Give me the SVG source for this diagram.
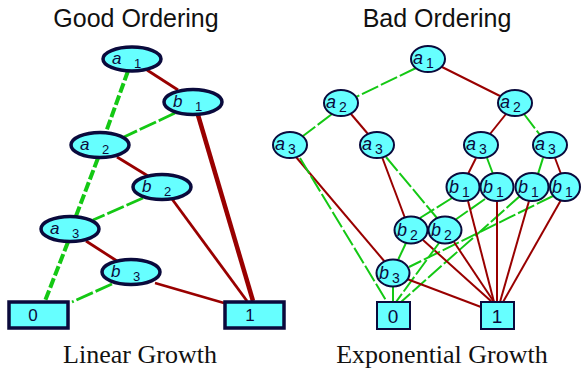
<svg xmlns="http://www.w3.org/2000/svg" width="581" height="372" viewBox="0 0 581 372">
<style>
.title{font-family:"Liberation Sans",Arial,sans-serif;font-size:25px;fill:#111;text-anchor:middle}
.cap{font-family:"Liberation Serif","Times New Roman",serif;font-size:26px;fill:#111;text-anchor:middle}
.nl{fill:#66ffff;stroke:#0a0a3c;stroke-width:3.5}
.nr{fill:#66ffff;stroke:#0a0a3c;stroke-width:2}
.bl{fill:#66ffff;stroke:#0a0a3c;stroke-width:3.5}
.br{fill:#66ffff;stroke:#0a0a3c;stroke-width:2}
.v{font-family:"Liberation Sans",Arial,sans-serif;font-style:italic;font-size:17px;fill:#0a0a3c}
.s{font-family:"Liberation Sans",Arial,sans-serif;font-size:13px;fill:#0a0a3c}
.vr{font-family:"Liberation Sans",Arial,sans-serif;font-style:italic;font-size:18px;fill:#0a0a3c}
.sr{font-family:"Liberation Sans",Arial,sans-serif;font-size:14px;fill:#0a0a3c}
.t{font-family:"Liberation Sans",Arial,sans-serif;font-size:17px;fill:#0a0a3c;text-anchor:middle}
.tr{font-family:"Liberation Sans",Arial,sans-serif;font-size:19px;fill:#0a0a3c;text-anchor:middle}
.g{stroke:#14c814;fill:none;stroke-dasharray:18,3}
.gd{stroke:#14c814;fill:none;stroke-width:4;stroke-dasharray:10,3}
.r{stroke:#990000;fill:none}
.lw{stroke-width:2.8}
.rw{stroke-width:2}
</style>
<text class="title" x="136" y="27">Good Ordering</text>
<text class="title" x="437" y="27">Bad Ordering</text>
<text class="cap" x="140" y="363">Linear Growth</text>
<text class="cap" x="442" y="363">Exponential Growth</text>
<g id="connectors">
<line class="gd" x1="128" y1="71" x2="106" y2="132"/>
<line class="r lw" x1="147" y1="70" x2="178" y2="90"/>
<line class="g lw" x1="175" y1="113" x2="124" y2="137"/>
<line class="r" stroke-width="4.5" x1="198" y1="115" x2="253" y2="301"/>
<line class="gd" x1="98" y1="158" x2="76" y2="216"/>
<line class="r lw" x1="117" y1="157" x2="148" y2="176"/>
<line class="g lw" x1="143" y1="198" x2="93" y2="220"/>
<line class="r lw" x1="172" y1="199" x2="247" y2="301"/>
<line class="gd" x1="68" y1="242" x2="45" y2="301"/>
<line class="r lw" x1="86" y1="241" x2="117" y2="261"/>
<line class="g lw" x1="112" y1="284" x2="72" y2="302"/>
<line class="r" stroke-width="2.4" x1="155" y1="283" x2="224" y2="303"/>
<line class="g rw" x1="416" y1="68" x2="356" y2="97"/>
<line class="r rw" x1="442" y1="67" x2="500" y2="96"/>
<line class="g rw" x1="332" y1="114" x2="303" y2="136"/>
<line class="r rw" x1="351" y1="114" x2="368" y2="134"/>
<line class="r rw" x1="506" y1="114" x2="490" y2="134"/>
<line class="g rw" x1="524" y1="114" x2="540" y2="135"/>
<line class="r rw" x1="296" y1="157" x2="385" y2="262"/>
<line class="g rw" x1="300" y1="158" x2="387" y2="302"/>
<line class="r rw" x1="382" y1="157" x2="405" y2="218"/>
<line class="g rw" x1="386" y1="157" x2="437" y2="218"/>
<line class="r rw" x1="476" y1="158" x2="468" y2="174"/>
<line class="g rw" x1="487" y1="158" x2="493" y2="174"/>
<line class="g rw" x1="543" y1="158" x2="538" y2="174"/>
<line class="r rw" x1="555" y1="158" x2="561" y2="174"/>
<line class="g rw" x1="452" y1="198" x2="420" y2="218"/>
<line class="g rw" x1="485" y1="199" x2="455" y2="220"/>
<line class="g rw" x1="520" y1="196" x2="401" y2="302"/>
<line class="g rw" x1="553" y1="196" x2="409" y2="267"/>
<line class="r rw" x1="468" y1="201" x2="494" y2="302"/>
<line class="r rw" x1="497" y1="202" x2="497" y2="302"/>
<line class="r rw" x1="529" y1="201" x2="500" y2="302"/>
<line class="r rw" x1="561" y1="200" x2="503" y2="302"/>
<line class="r rw" x1="423" y1="240" x2="492" y2="302"/>
<line class="r rw" x1="454" y1="242" x2="494" y2="302"/>
<line class="g rw" x1="406" y1="243" x2="398" y2="260"/>
<line class="g rw" x1="439" y1="243" x2="396" y2="302"/>
<line class="g rw" x1="393" y1="287" x2="393" y2="302"/>
<line class="r rw" x1="407" y1="279" x2="481" y2="307"/>
</g>
<g id="L_a1"><ellipse class="nl" cx="132" cy="59" rx="29" ry="12"/><text class="v" x="112" y="64">a</text><text class="s" x="134" y="68">1</text></g>
<g id="L_b1"><ellipse class="nl" cx="193" cy="102" rx="29" ry="12.5"/><text class="v" x="173" y="107">b</text><text class="s" x="195" y="111">1</text></g>
<g id="L_a2"><ellipse class="nl" cx="100" cy="145" rx="29" ry="12.5"/><text class="v" x="80" y="150">a</text><text class="s" x="102" y="154">2</text></g>
<g id="L_b2"><ellipse class="nl" cx="162" cy="187" rx="29" ry="12.5"/><text class="v" x="142" y="192">b</text><text class="s" x="164" y="196">2</text></g>
<g id="L_a3"><ellipse class="nl" cx="70" cy="229" rx="29" ry="12.5"/><text class="v" x="50" y="234">a</text><text class="s" x="72" y="238">3</text></g>
<g id="L_b3"><ellipse class="nl" cx="131" cy="272" rx="29" ry="12.5"/><text class="v" x="111" y="277">b</text><text class="s" x="133" y="281">3</text></g>
<g id="L_0"><rect class="bl" x="9" y="302" width="59" height="26"/><text class="t" x="33" y="321">0</text></g>
<g id="L_1"><rect class="bl" x="225" y="302" width="59" height="26"/><text class="t" x="250" y="321">1</text></g>
<g id="R_a1"><ellipse class="nr" cx="428" cy="59" rx="17" ry="13"/><text class="vr" x="413" y="64">a</text><text class="sr" x="426" y="68">1</text></g>
<g id="R_a2L"><ellipse class="nr" cx="341" cy="103" rx="17" ry="13"/><text class="vr" x="326" y="108">a</text><text class="sr" x="339" y="112">2</text></g>
<g id="R_a2R"><ellipse class="nr" cx="515" cy="103" rx="17" ry="13"/><text class="vr" x="500" y="108">a</text><text class="sr" x="513" y="112">2</text></g>
<g id="R_a3a"><ellipse class="nr" cx="290" cy="145" rx="17" ry="13"/><text class="vr" x="275" y="150">a</text><text class="sr" x="288" y="154">3</text></g>
<g id="R_a3b"><ellipse class="nr" cx="377" cy="145" rx="17" ry="13"/><text class="vr" x="362" y="150">a</text><text class="sr" x="375" y="154">3</text></g>
<g id="R_a3c"><ellipse class="nr" cx="481" cy="145" rx="17" ry="13"/><text class="vr" x="466" y="150">a</text><text class="sr" x="479" y="154">3</text></g>
<g id="R_a3d"><ellipse class="nr" cx="550" cy="145" rx="17" ry="13"/><text class="vr" x="535" y="150">a</text><text class="sr" x="548" y="154">3</text></g>
<g id="R_b1a"><ellipse class="nr" cx="463" cy="187" rx="16.5" ry="14"/><text class="vr" x="449" y="193">b</text><text class="sr" x="462" y="197">1</text></g>
<g id="R_b1b"><ellipse class="nr" cx="497" cy="187" rx="16.5" ry="14"/><text class="vr" x="483" y="193">b</text><text class="sr" x="496" y="197">1</text></g>
<g id="R_b1c"><ellipse class="nr" cx="532" cy="187" rx="16.5" ry="14"/><text class="vr" x="518" y="193">b</text><text class="sr" x="531" y="197">1</text></g>
<g id="R_b1d"><ellipse class="nr" cx="565" cy="187" rx="15" ry="14"/><text class="vr" x="552" y="193">b</text><text class="sr" x="565" y="197">1</text></g>
<g id="R_b2a"><ellipse class="nr" cx="411" cy="230" rx="16.5" ry="13.5"/><text class="vr" x="397" y="236">b</text><text class="sr" x="410" y="240">2</text></g>
<g id="R_b2b"><ellipse class="nr" cx="445" cy="230" rx="16.5" ry="13.5"/><text class="vr" x="431" y="236">b</text><text class="sr" x="444" y="240">2</text></g>
<g id="R_b3"><ellipse class="nr" cx="393" cy="273" rx="16.5" ry="13.5"/><text class="vr" x="379" y="279">b</text><text class="sr" x="392" y="283">3</text></g>
<g id="R_0"><rect class="br" x="377" y="302" width="33" height="27"/><text class="tr" x="393" y="323">0</text></g>
<g id="R_1"><rect class="br" x="481" y="302" width="33" height="27"/><text class="tr" x="497" y="323">1</text></g>
</svg>
